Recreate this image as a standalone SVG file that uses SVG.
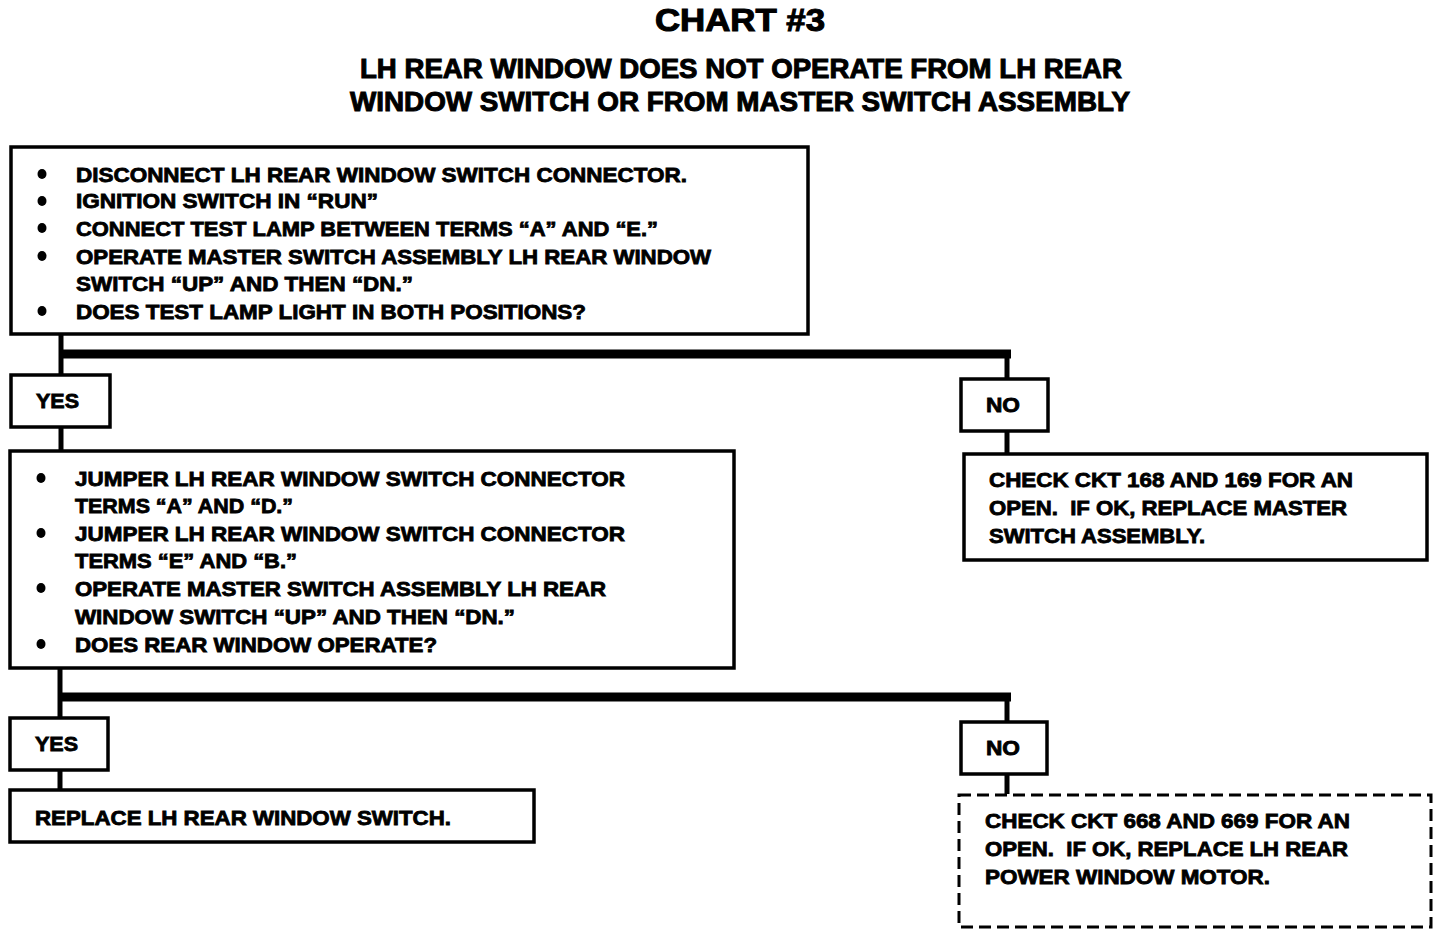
<svg xmlns="http://www.w3.org/2000/svg" width="1440" height="936" viewBox="0 0 1440 936">
<style>
.box{fill:#fff;stroke:#000;stroke-width:3.5}
.dash{fill:#fff;stroke:#000;stroke-width:3;stroke-dasharray:12 6}
.t{font-family:"Liberation Sans",Arial,sans-serif;font-weight:bold;font-size:20px;fill:#000;stroke:#000;stroke-width:0.8}
.h1{font-family:"Liberation Sans",Arial,sans-serif;font-weight:bold;font-size:32px;fill:#000;stroke:#000;stroke-width:1.1}
.h2{font-family:"Liberation Sans",Arial,sans-serif;font-weight:bold;font-size:27px;fill:#000;stroke:#000;stroke-width:1}
.c{stroke:#000;stroke-width:5;fill:none}
.bar{stroke:#000;stroke-width:9;fill:none}
.b{fill:#000}
</style>
<rect width="1440" height="936" fill="#fff"/>
<g id="title">
<text class="h1" x="655" y="31" textLength="170" lengthAdjust="spacingAndGlyphs">CHART #3</text>
<text class="h2" x="360" y="78" textLength="762" lengthAdjust="spacingAndGlyphs">LH REAR WINDOW DOES NOT OPERATE FROM LH REAR</text>
<text class="h2" x="350" y="111" textLength="780" lengthAdjust="spacingAndGlyphs">WINDOW SWITCH OR FROM MASTER SWITCH ASSEMBLY</text>
</g>
<g id="connectors">
<line class="c" x1="61" y1="334" x2="61" y2="374"/>
<line class="bar" x1="59" y1="354" x2="1011" y2="354"/>
<line class="c" x1="1007" y1="354" x2="1007" y2="378"/>
<line class="c" x1="61" y1="427" x2="61" y2="450"/>
<line class="c" x1="1007" y1="431" x2="1007" y2="453"/>
<line class="c" x1="60" y1="668" x2="60" y2="717"/>
<line class="bar" x1="58" y1="697" x2="1011" y2="697"/>
<line class="c" x1="1007" y1="697" x2="1007" y2="721"/>
<line class="c" x1="60" y1="770" x2="60" y2="789"/>
<line class="c" x1="1007" y1="774" x2="1007" y2="794"/>
</g>
<g id="step1">
<rect class="box" x="11" y="147" width="797" height="187"/>
<ellipse class="b" cx="42" cy="174" rx="4.5" ry="5"/>
<ellipse class="b" cx="42" cy="201" rx="4.5" ry="5"/>
<ellipse class="b" cx="42" cy="228" rx="4.5" ry="5"/>
<ellipse class="b" cx="42" cy="256" rx="4.5" ry="5"/>
<ellipse class="b" cx="42" cy="311" rx="4.5" ry="5"/>
<text class="t" x="76" y="182" textLength="611" lengthAdjust="spacingAndGlyphs">DISCONNECT LH REAR WINDOW SWITCH CONNECTOR.</text>
<text class="t" x="76" y="208" textLength="302" lengthAdjust="spacingAndGlyphs">IGNITION SWITCH IN “RUN”</text>
<text class="t" x="76" y="236" textLength="582" lengthAdjust="spacingAndGlyphs">CONNECT TEST LAMP BETWEEN TERMS “A” AND “E.”</text>
<text class="t" x="76" y="264" textLength="635" lengthAdjust="spacingAndGlyphs">OPERATE MASTER SWITCH ASSEMBLY LH REAR WINDOW</text>
<text class="t" x="76" y="291" textLength="337" lengthAdjust="spacingAndGlyphs">SWITCH “UP” AND THEN “DN.”</text>
<text class="t" x="76" y="319" textLength="510" lengthAdjust="spacingAndGlyphs">DOES TEST LAMP LIGHT IN BOTH POSITIONS?</text>
</g>
<g id="yes1">
<rect class="box" x="11" y="375" width="99" height="52"/>
<text class="t" x="36" y="408" textLength="43" lengthAdjust="spacingAndGlyphs">YES</text>
</g>
<g id="no1">
<rect class="box" x="961" y="379" width="87" height="52"/>
<text class="t" x="986" y="412" textLength="34" lengthAdjust="spacingAndGlyphs">NO</text>
</g>
<g id="step2">
<rect class="box" x="10" y="451" width="724" height="217"/>
<ellipse class="b" cx="41" cy="478" rx="4.5" ry="5"/>
<ellipse class="b" cx="41" cy="533" rx="4.5" ry="5"/>
<ellipse class="b" cx="41" cy="588" rx="4.5" ry="5"/>
<ellipse class="b" cx="41" cy="644" rx="4.5" ry="5"/>
<text class="t" x="75" y="486" textLength="550" lengthAdjust="spacingAndGlyphs">JUMPER LH REAR WINDOW SWITCH CONNECTOR</text>
<text class="t" x="75" y="513" textLength="218" lengthAdjust="spacingAndGlyphs">TERMS “A” AND “D.”</text>
<text class="t" x="75" y="541" textLength="550" lengthAdjust="spacingAndGlyphs">JUMPER LH REAR WINDOW SWITCH CONNECTOR</text>
<text class="t" x="75" y="568" textLength="222" lengthAdjust="spacingAndGlyphs">TERMS “E” AND “B.”</text>
<text class="t" x="75" y="596" textLength="531" lengthAdjust="spacingAndGlyphs">OPERATE MASTER SWITCH ASSEMBLY LH REAR</text>
<text class="t" x="75" y="624" textLength="440" lengthAdjust="spacingAndGlyphs">WINDOW SWITCH “UP” AND THEN “DN.”</text>
<text class="t" x="75" y="652" textLength="362" lengthAdjust="spacingAndGlyphs">DOES REAR WINDOW OPERATE?</text>
</g>
<g id="result1">
<rect class="box" x="964" y="454" width="463" height="106"/>
<text class="t" x="989" y="487" textLength="364" lengthAdjust="spacingAndGlyphs">CHECK CKT 168 AND 169 FOR AN</text>
<text class="t" x="989" y="515" textLength="358" xml:space="preserve" lengthAdjust="spacingAndGlyphs">OPEN.  IF OK, REPLACE MASTER</text>
<text class="t" x="989" y="543" textLength="216" lengthAdjust="spacingAndGlyphs">SWITCH ASSEMBLY.</text>
</g>
<g id="yes2">
<rect class="box" x="10" y="718" width="98" height="52"/>
<text class="t" x="35" y="751" textLength="43" lengthAdjust="spacingAndGlyphs">YES</text>
</g>
<g id="no2">
<rect class="box" x="961" y="722" width="86" height="52"/>
<text class="t" x="986" y="755" textLength="34" lengthAdjust="spacingAndGlyphs">NO</text>
</g>
<g id="result2">
<rect class="box" x="10" y="790" width="524" height="52"/>
<text class="t" x="35" y="825" textLength="416" lengthAdjust="spacingAndGlyphs">REPLACE LH REAR WINDOW SWITCH.</text>
</g>
<g id="result3">
<rect class="dash" x="959" y="795" width="472" height="132"/>
<text class="t" x="985" y="828" textLength="365" lengthAdjust="spacingAndGlyphs">CHECK CKT 668 AND 669 FOR AN</text>
<text class="t" x="985" y="856" textLength="363" xml:space="preserve" lengthAdjust="spacingAndGlyphs">OPEN.  IF OK, REPLACE LH REAR</text>
<text class="t" x="985" y="884" textLength="285" lengthAdjust="spacingAndGlyphs">POWER WINDOW MOTOR.</text>
</g>
</svg>
